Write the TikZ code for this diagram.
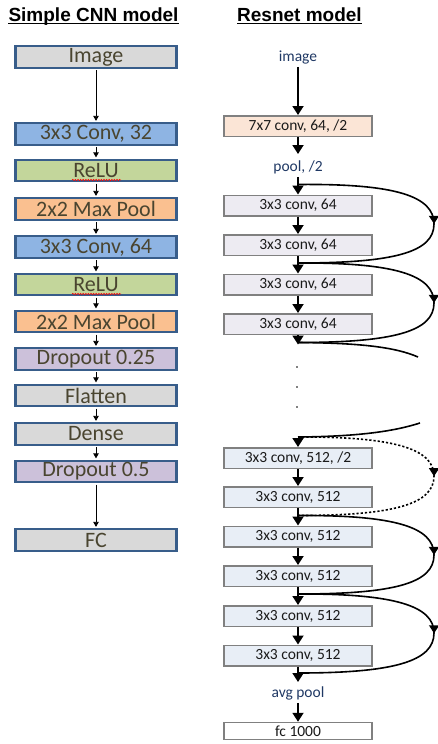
\documentclass[tikz,border=0pt]{standalone}
\usepackage{fontspec}
\setmainfont{Carlito}
\newfontfamily\titlefont{Liberation Sans}
\usetikzlibrary{arrows.meta,decorations.pathmorphing,decorations.markings}
\definecolor{lborder}{HTML}{385D8A}
\definecolor{ltext}{HTML}{4A4530}
\definecolor{cgray}{HTML}{D9D9D9}
\definecolor{cblue}{HTML}{8EB4E3}
\definecolor{cgreen}{HTML}{C3D69B}
\definecolor{corange}{HTML}{FAC090}
\definecolor{cpurple}{HTML}{CCC1DA}
\definecolor{rborder}{HTML}{808080}
\definecolor{rtext}{HTML}{1A1A1A}
\definecolor{rlabel}{HTML}{1F3864}
\definecolor{rpeach}{HTML}{FBE5D6}
\definecolor{rlav}{HTML}{EDEBF2}
\definecolor{rblue}{HTML}{E8EEF6}
\tikzset{
  lbox/.style={draw=lborder, line width=2.4pt, minimum width=161pt, minimum height=21.5pt, inner sep=0pt, text=ltext, font=\fontsize{22}{22}\selectfont},
  rbox/.style={draw=rborder, line width=1.5pt, minimum width=148pt, minimum height=20.5pt, inner sep=0pt, text=rtext, font=\fontsize{15.5}{15.5}\selectfont},
  rlab/.style={inner sep=0pt, text=rlabel, font=\fontsize{15.5}{15.5}\selectfont},
  larrow/.style={draw=black, line width=0.8pt, -{Triangle[length=5pt,width=5.5pt]}},
  rarrow/.style={draw=black, line width=1.8pt, -{Triangle[length=9pt,width=11pt]}},
  skipline/.style={draw=black, line width=1.6pt, postaction={decorate}, decoration={markings, mark=at position 0.5 with {\arrow{Triangle[length=8pt,width=10pt]}}}},
  titlestyle/.style={inner sep=0pt, anchor=base, font=\titlefont\bfseries\fontsize{19}{19}\selectfont},
  squiggle/.style={draw=red, line width=0.5pt, decorate, decoration={snake, amplitude=0.7pt, segment length=2.6pt}}
}
\begin{document}
\begin{tikzpicture}[x=1pt,y=-1pt]
\useasboundingbox (0,0) rectangle (438,744);
% titles
\node[titlestyle] (t1) at (93.5,21) {Simple CNN model};
\node[titlestyle] (t2) at (299.5,21) {Resnet model};
\draw[line width=1.1pt] ([yshift=-2.6pt]t1.base west) -- ([yshift=-2.6pt]t1.base east);
\draw[line width=1.1pt] ([yshift=-2.6pt]t2.base west) -- ([yshift=-2.6pt]t2.base east);
% left column
\node[lbox, fill=cgray] (l1) at (96,57) {Image};
\node[lbox, fill=cblue] (l2) at (96,134) {3x3 Conv, 32};
\node[lbox, fill=cgreen] (l3) at (96,170.5) {ReLU};
\node[lbox, fill=corange] (l4) at (96,209) {2x2 Max Pool};
\node[lbox, fill=cblue] (l5) at (96,247) {3x3 Conv, 64};
\node[lbox, fill=cgreen] (l6) at (96,284.5) {ReLU};
\node[lbox, fill=corange] (l7) at (96,321.5) {2x2 Max Pool};
\node[lbox, fill=cpurple] (l8) at (96,359) {Dropout 0.25};
\node[lbox, fill=cgray] (l9) at (96,395.5) {Flatten};
\node[lbox, fill=cgray] (l10) at (96,434) {Dense};
\node[lbox, fill=cpurple] (l11) at (96,471.5) {Dropout 0.5};
\node[lbox, fill=cgray] (l12) at (96,540) {FC};
\foreach \a/\b in {l1/l2,l2/l3,l3/l4,l4/l5,l5/l6,l6/l7,l7/l8,l8/l9,l9/l10,l10/l11,l11/l12}
  \draw[larrow] ([yshift=-1.2pt]\a.south) -- ([yshift=1.2pt]\b.north);
\draw[squiggle] (72,180) -- (121,180);
\draw[squiggle] (72,294) -- (121,294);
% right column
\node[rlab] (img) at (298,57) {image};
\node[rbox, fill=rpeach] (c7) at (298,126) {7x7 conv, 64, /2};
\node[rlab] (pool) at (298,167) {pool, /2};
\node[rbox, fill=rlav] (a1) at (298,205.5) {3x3 conv, 64};
\node[rbox, fill=rlav] (a2) at (298,245) {3x3 conv, 64};
\node[rbox, fill=rlav] (a3) at (298,284.5) {3x3 conv, 64};
\node[rbox, fill=rlav] (a4) at (298,324) {3x3 conv, 64};
\node[rbox, fill=rblue] (b1) at (298,458) {3x3 conv, 512, /2};
\node[rbox, fill=rblue] (b2) at (298,497) {3x3 conv, 512};
\node[rbox, fill=rblue] (b3) at (298,536.5) {3x3 conv, 512};
\node[rbox, fill=rblue] (b4) at (298,576) {3x3 conv, 512};
\node[rbox, fill=rblue] (b5) at (298,616) {3x3 conv, 512};
\node[rbox, fill=rblue] (b6) at (298,655.5) {3x3 conv, 512};
\node[rlab] (avg) at (298,693) {avg pool};
\node[rbox, fill=white, minimum height=17pt] (fc) at (298,731) {fc 1000};
% junction coordinates
\coordinate (j1) at (298,184.5);
\coordinate (j2) at (298,263);
\coordinate (j3) at (298,342.5);
\coordinate (j4) at (298,437);
\coordinate (j5) at (298,515.5);
\coordinate (j6) at (298,594);
\coordinate (j7) at (298,673);
\coordinate (p1) at (418,357);
\coordinate (p2) at (420,423);
\coordinate (e1) at (298,154);
\coordinate (e2) at (298,682);
% dots
\foreach \yy/\n in {367/d1,387/d2,407/d3} \fill (297,\yy) circle (0.9pt) coordinate (\n);
% main arrows
\draw[rarrow] ([yshift=-3pt]img.south) -- (c7.north);
\draw[rarrow] (c7.south) -- (e1);
\draw[rarrow] ([yshift=-3pt]pool.south) -- (a1.north);
\draw[rarrow] (a1.south) -- (a2.north);
\draw[rarrow] (a2.south) -- (a3.north);
\draw[rarrow] (a3.south) -- (a4.north);
\draw[rarrow] (a4.south) -- ([yshift=-2pt]j3);
\draw[rarrow] ([yshift=-1pt]j4) -- (b1.north);
\draw[rarrow] (b1.south) -- (b2.north);
\draw[rarrow] (b2.south) -- (b3.north);
\draw[rarrow] (b3.south) -- (b4.north);
\draw[rarrow] (b4.south) -- (b5.north);
\draw[rarrow] (b5.south) -- (b6.north);
\draw[rarrow] (b6.south) -- (e2);
\draw[rarrow] ([yshift=-3pt]avg.south) -- (fc.north);
% skip connections
\draw[skipline] (j1) .. controls (395,183.5) and (434,196) .. (434,224) .. controls (434,252) and (395,263) .. (j2);
\draw[skipline] (j2) .. controls (395,262.5) and (434,275) .. (434,303) .. controls (434,331) and (395,342.5) .. (j3);
\draw[line width=1.6pt] (j3) .. controls (360,343) and (395,347) .. (p1);
\draw[line width=1.6pt] (p2) .. controls (395,431) and (360,436.5) .. (j4);
\draw[skipline, dash pattern=on 2.2pt off 2pt] (j4) .. controls (395,436.5) and (434,449) .. (434,476) .. controls (434,504) and (395,515.5) .. (j5);
\draw[skipline] (j5) .. controls (395,515) and (434,527) .. (434,555) .. controls (434,583) and (395,594) .. (j6);
\draw[skipline] (j6) .. controls (395,593.5) and (434,606) .. (434,633) .. controls (434,661) and (395,673) .. (j7);
\end{tikzpicture}
\end{document}
